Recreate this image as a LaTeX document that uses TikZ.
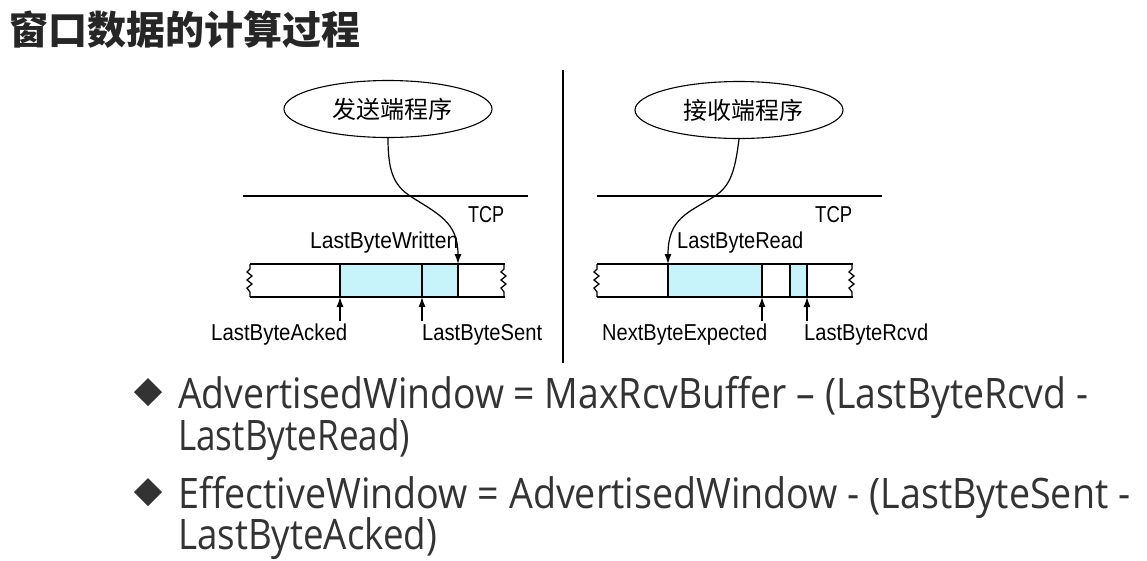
\documentclass[tikz,border=0pt]{standalone}
\usepackage{fontspec}
\usepackage{graphicx}
\usetikzlibrary{arrows.meta,shapes.geometric}
\newfontfamily\cjkfont{Noto Sans CJK SC}
\newfontfamily\labfont{Liberation Sans}
\newfontfamily\bodyfont{Open Sans}
\definecolor{bufcyan}{RGB}{198,244,250}
\definecolor{txtgray}{RGB}{51,51,51}
\newcommand\fitw[2]{\resizebox{#1pt}{\height}{#2}}
\tikzset{
  lab/.style={font=\labfont\fontsize{23}{23}\selectfont, inner sep=0pt, anchor=base west},
  app/.style={ellipse, draw, line width=1.1pt, minimum width=208pt, minimum height=57pt, inner sep=0pt,
              font=\cjkfont\fontsize{24}{24}\selectfont},
  body/.style={font=\bodyfont\fontsize{42}{42}\selectfont, text=txtgray, inner sep=0pt, anchor=base west},
  rule/.style={line width=1.5pt},
  buf/.style={line width=1.3pt},
  ptr/.style={line width=1.2pt, -{Latex[length=10pt,width=7pt]}},
}
\newcommand\wiggle[1]{\draw[buf] (#1,264) -- (#1,269) -- (#1-3,272) -- (#1+2,276) -- (#1-3,280) -- (#1+2,284) -- (#1-3,288) -- (#1,292) -- (#1,297);}
\begin{document}
\begin{tikzpicture}[x=1pt,y=-1pt]
\useasboundingbox[fill=white] (0,0) rectangle (1147,560);

% title
\node[anchor=west, inner sep=0pt, font=\cjkfont\bfseries\fontsize{39}{39}\selectfont, text=black!85] (title) at (9,30) {窗口数据的计算过程};

% divider
\draw[line width=1.6pt] (563,70) -- (563,363);

% ---------- sender ----------
\node[app] (sendapp) at (388,109) {\hspace{8pt}发送端程序};
\draw[rule] (243,196) -- (528,196);
\node[lab] (tcpL) at (468,222) {\fitw{36}{TCP}};
\node[lab] (lbw) at (310,248) {\fitw{148}{LastByteWritten}};
\fill[bufcyan] (340,264) rectangle (458,297);
\draw[buf] (250,264) -- (505,264);
\draw[buf] (250,297) -- (505,297);
\wiggle{250}
\wiggle{504}
\draw[buf] (340,264) -- (340,297);
\draw[buf] (422,264) -- (422,297);
\draw[buf] (458,264) -- (458,297);
\coordinate (lbwtip) at (458,264);
\node[lab] (lba) at (211,340) {\fitw{136}{LastByteAcked}};
\node[lab] (lbs) at (422,340) {\fitw{120}{LastByteSent}};
\coordinate (ackfoot) at (340,321);
\coordinate (ackhead) at (340,297);
\coordinate (sentfoot) at (422,321);
\coordinate (senthead) at (422,297);
\draw[ptr] (ackfoot) -- (ackhead);
\draw[ptr] (sentfoot) -- (senthead);
\draw[ptr] (sendapp.south) .. controls (388,172) and (394,185) .. (410,196)
   .. controls (438,214) and (458,222) .. (lbwtip);

% ---------- receiver ----------
\node[app] (recvapp) at (739,110) {\hspace{8pt}接收端程序};
\draw[rule] (597,196) -- (882,196);
\node[lab] (tcpR) at (815,222) {\fitw{37}{TCP}};
\node[lab] (lbr) at (677,248) {\fitw{126}{LastByteRead}};
\fill[bufcyan] (668,264) rectangle (762,297);
\fill[bufcyan] (790,264) rectangle (807,297);
\draw[buf] (597,264) -- (853,264);
\draw[buf] (597,297) -- (853,297);
\wiggle{597}
\wiggle{852}
\draw[buf] (668,264) -- (668,297);
\draw[buf] (762,264) -- (762,297);
\draw[buf] (790,264) -- (790,297);
\draw[buf] (807,264) -- (807,297);
\coordinate (lbrtip) at (668,264);
\node[lab] (nbe) at (602,340) {\fitw{165}{NextByteExpected}};
\node[lab] (lbrc) at (804,340) {\fitw{124}{LastByteRcvd}};
\coordinate (nbefoot) at (762,321);
\coordinate (nbehead) at (762,297);
\coordinate (rcvfoot) at (807,321);
\coordinate (rcvhead) at (807,297);
\draw[ptr] (nbefoot) -- (nbehead);
\draw[ptr] (rcvfoot) -- (rcvhead);
\draw[ptr] (recvapp.south) .. controls (735,172) and (730,186) .. (715,196)
   .. controls (688,213) and (668,218) .. (lbrtip);

% ---------- formulas ----------
\fill[txtgray] (148,378) -- (162,392) -- (148,406) -- (134,392) -- cycle;
\fill[txtgray] (148,478) -- (162,492) -- (148,506) -- (134,492) -- cycle;
\node[body] (f1a) at (178,408) {\fitw{910}{AdvertisedWindow = MaxRcvBuffer – (LastByteRcvd -}};
\node[body] (f1b) at (178,450) {\fitw{232}{LastByteRead)}};
\node[body] (f2a) at (178,508) {\fitw{952}{EffectiveWindow = AdvertisedWindow - (LastByteSent -}};
\node[body] (f2b) at (178,549) {\fitw{259}{LastByteAcked)}};
\end{tikzpicture}
\end{document}
